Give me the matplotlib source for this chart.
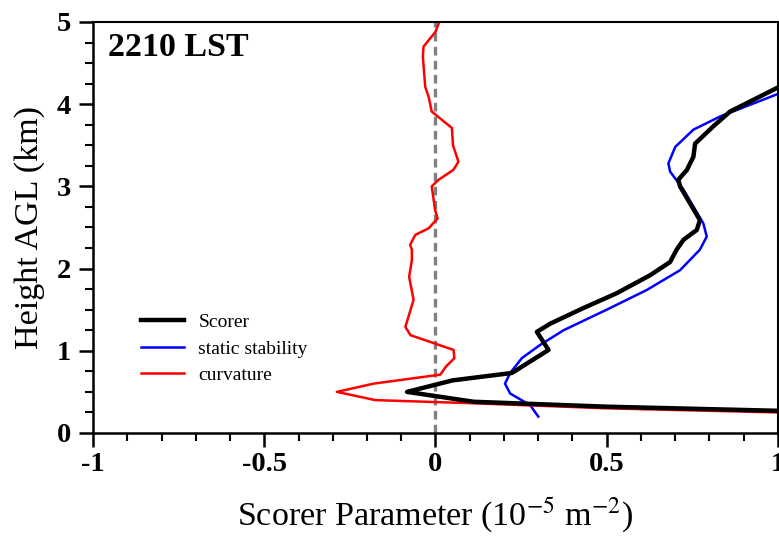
import matplotlib.pyplot as plt
from matplotlib.ticker import MultipleLocator

# profiles (x in 1e-5 m^-2, height in km AGL)
scorer_x = [1.5, 1.0, 0.50, 0.111, -0.083, 0.05, 0.223, 0.33, 0.296, 0.335, 0.432,
            0.529, 0.627, 0.685, 0.704, 0.724, 0.763, 0.772, 0.714, 0.709, 0.734,
            0.753, 0.758, 0.811, 0.86, 1.003, 1.2]
scorer_z = [0.20, 0.27, 0.32, 0.38, 0.50, 0.64, 0.73, 1.01, 1.23, 1.33, 1.52,
            1.70, 1.92, 2.08, 2.23, 2.35, 2.47, 2.59, 3.00, 3.08, 3.20,
            3.36, 3.52, 3.73, 3.91, 4.21, 4.35]

static_x = [0.30, 0.276, 0.218, 0.203, 0.218, 0.252, 0.305, 0.374, 0.500, 0.617,
            0.714, 0.772, 0.792, 0.782, 0.724, 0.685, 0.68, 0.700, 0.753, 0.831,
            1.003, 1.2]
static_z = [0.20, 0.34, 0.48, 0.60, 0.73, 0.91, 1.07, 1.25, 1.50, 1.74,
            1.98, 2.23, 2.39, 2.55, 2.96, 3.18, 3.28, 3.48, 3.69, 3.85,
            4.13, 4.22]

curv_x = [1.5, 1.0, 0.50, 0.121, -0.176, -0.288, -0.181, 0.014, 0.031, 0.055, 0.053,
          -0.073, -0.088, -0.064, -0.077, -0.069, -0.069, -0.074, -0.059, -0.020,
          0.006, -0.001, -0.011, 0.009, 0.052, 0.067, 0.051, 0.048, -0.011, -0.020,
          -0.030, -0.037, -0.035, 0.0, 0.009, 0.015]
curv_z = [0.20, 0.25, 0.30, 0.36, 0.40, 0.50, 0.60, 0.71, 0.81, 0.91, 1.01,
          1.19, 1.29, 1.62, 1.90, 2.10, 2.23, 2.29, 2.41, 2.49,
          2.61, 2.71, 3.00, 3.08, 3.20, 3.30, 3.50, 3.71, 3.91, 4.09,
          4.21, 4.58, 4.70, 4.88, 4.98, 5.05]

plt.rcParams['font.family'] = ['Liberation Serif', 'DejaVu Serif']
plt.rcParams['mathtext.fontset'] = 'stix'
plt.rcParams['axes.unicode_minus'] = False

fig = plt.figure(figsize=(7.79, 5.36), dpi=100)
ax = fig.add_axes([0.1194, 0.1922, 0.8793, 0.7668])

ax.axvline(0, color='#808080', lw=2.4, ls=(0, (2.6, 1.6)), zorder=1)
ax.plot(scorer_x, scorer_z, color='black', lw=3.2, label='Scorer', zorder=3)
ax.plot(static_x, static_z, color='blue', lw=1.8, label='static stability', zorder=2)
ax.plot(curv_x, curv_z, color='red', lw=1.8, label='curvature', zorder=2)

ax.set_xlim(-1, 1)
ax.set_ylim(0, 5)
ax.xaxis.set_major_locator(MultipleLocator(0.5))
ax.xaxis.set_minor_locator(MultipleLocator(0.1))
ax.yaxis.set_major_locator(MultipleLocator(1))
ax.yaxis.set_minor_locator(MultipleLocator(0.25))
ax.set_xticks([-1, -0.5, 0, 0.5, 1])
ax.set_xticklabels(['-1', '-0.5', '0', '0.5', '1'])

ax.tick_params(which='major', direction='out', length=10, width=1.8, labelsize=20.5, pad=4)
ax.tick_params(which='minor', direction='out', length=5.5, width=1.5)
ax.tick_params(axis='y', which='major', pad=6)
for lbl in ax.get_xticklabels() + ax.get_yticklabels():
    lbl.set_fontweight('bold')
for sp in ['left', 'bottom']:
    ax.spines[sp].set_linewidth(1.8)
for sp in ['top', 'right']:
    ax.spines[sp].set_linewidth(1.5)

ax.set_xlabel('Scorer Parameter (10$^{-5}$ m$^{-2}$)', fontsize=24.5, labelpad=13)
ax.set_ylabel('Height AGL (km)', fontsize=24.5, labelpad=8)

ax.text(0.022, 0.939, '2210 LST', transform=ax.transAxes, fontsize=24.5,
        fontweight='bold', va='center', ha='left')

ax.legend(loc='center left', bbox_to_anchor=(0.07, 0.205), frameon=False,
          fontsize=14, handlelength=2.2, handletextpad=0.75, labelspacing=0.45,
          borderpad=0, borderaxespad=0)

fig.savefig('out.png', dpi=100)
